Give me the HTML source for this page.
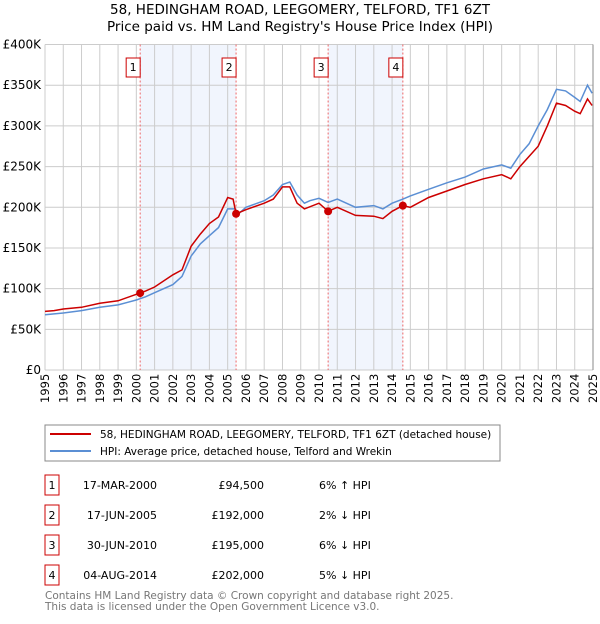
<!DOCTYPE html>
<html><head><meta charset="utf-8"><style>
body{margin:0;background:#fff;font-family:"DejaVu Sans","Liberation Sans",sans-serif;}
svg text{font-family:"DejaVu Sans","Liberation Sans",sans-serif;}
</style></head><body>
<svg id="chart" width="600" height="620" xmlns="http://www.w3.org/2000/svg">
<text x="300" y="14" text-anchor="middle" font-size="13.5">58, HEDINGHAM ROAD, LEEGOMERY, TELFORD, TF1 6ZT</text>
<text x="300" y="31" text-anchor="middle" font-size="13.5">Price paid vs. HM Land Registry's House Price Index (HPI)</text>
<g id="plot"></g>
<rect x="45" y="425" width="455" height="36" fill="#fff" stroke="#888"/>
<line x1="50" y1="434" x2="91" y2="434" stroke="#cc0000" stroke-width="2"/>
<text x="100" y="438" font-size="10.5">58, HEDINGHAM ROAD, LEEGOMERY, TELFORD, TF1 6ZT (detached house)</text>
<line x1="50" y1="451" x2="91" y2="451" stroke="#5b8fd4" stroke-width="2"/>
<text x="100" y="455" font-size="10.5">HPI: Average price, detached house, Telford and Wrekin</text>
<g id="table"></g>
<text x="45" y="599" font-size="10.5" fill="#777">Contains HM Land Registry data © Crown copyright and database right 2025.</text>
<text x="45" y="610" font-size="10.5" fill="#777">This data is licensed under the Open Government Licence v3.0.</text>
</svg>
<script>
const hpiYears=[1995,1995.5,1996,1997,1998,1999,2000,2000.5,2001,2002,2002.5,2003,2003.5,2004,2004.5,2005,2005.4,2005.6,2006,2007,2007.5,2008,2008.4,2008.8,2009.2,2009.5,2010,2010.5,2011,2012,2013,2013.5,2014,2014.6,2015,2016,2017,2018,2019,2020,2020.5,2021,2021.5,2022,2022.5,2023,2023.5,2024,2024.3,2024.7,2024.95];
const hpiValues=[68,69,70,73,77,80,86,90,95,105,115,140,155,165,175,198,198,192,200,208,215,228,231,215,205,208,211,206,210,200,202,198,205,210,214,222,230,237,247,252,248,265,278,300,320,345,343,335,330,350,340];
const propYears=[1995,1995.5,1996,1997,1998,1999,2000,2000.5,2001,2002,2002.5,2003,2003.5,2004,2004.5,2005,2005.3,2005.46,2006,2007,2007.5,2008,2008.4,2008.8,2009.2,2010,2010.5,2011,2012,2013,2013.5,2014,2014.59,2015,2016,2017,2018,2019,2020,2020.5,2021,2022,2022.5,2023,2023.5,2024,2024.3,2024.7,2024.95];
const propValues=[72,73,75,77,82,85,93,97,102,117,123,152,167,180,188,212,210,192,197,205,210,225,225,205,198,205,195,200,190,189,186,195,202,200,212,220,228,235,240,235,250,275,300,328,325,318,315,333,325];
const saleLabels=["1","2","3","4"];
const saleYears=[2000.21,2005.46,2010.5,2014.59];
const salePrices=[94500,192000,195000,202000];
const saleDates=["17-MAR-2000","17-JUN-2005","30-JUN-2010","04-AUG-2014"];
const salePriceText=["£94,500","£192,000","£195,000","£202,000"];
const saleHpiText=["6% ↑ HPI","2% ↓ HPI","6% ↓ HPI","5% ↓ HPI"];
const yTicks=[0,50,100,150,200,250,300,350,400];
const yTickLabels=["£0","£50K","£100K","£150K","£200K","£250K","£300K","£350K","£400K"];

const NS="http://www.w3.org/2000/svg";
const X0=45,X1=593,Y0=370,Y1=44.5;
const x=v=>X0+(v-1995)/30*(X1-X0);
const y=v=>Y0-v/400*(Y0-Y1);
const g=document.getElementById('plot');
function mk(tag,attrs,parent){const e=document.createElementNS(NS,tag);for(const k in attrs)e.setAttribute(k,attrs[k]);(parent||g).appendChild(e);return e;}
let r=mk('rect',{x:X0,y:Y1,width:X1-X0,height:Y0-Y1,fill:'#fff'});


for(let i=0;i<4;i+=2){
  let s=mk('rect',{x:x(saleYears[i]),y:Y1,width:x(saleYears[i+1])-x(saleYears[i]),height:Y0-Y1,fill:'#eef3fc',opacity:0.8});
  
  
}
for(let yr=1995;yr<=2025;yr++){
  let l=mk('line',{x1:x(yr),x2:x(yr),y1:Y1,y2:Y0,stroke:'#ccc','stroke-width':1});
  
  
  let t=mk('text',{x:0,y:0,'font-size':11.5,transform:`translate(${x(yr)+4},${Y0+33}) rotate(-90)`});
  t.textContent=yr;
  
  
}
yTicks.forEach((v,i)=>{
  let l=mk('line',{x1:X0,x2:X1,y1:y(v),y2:y(v),stroke:'#ccc','stroke-width':1});
  
  
  let t=mk('text',{x:X0-4,y:y(v)+4,'font-size':12,'text-anchor':'end'});
  t.textContent=yTickLabels[i];
  
  
});
saleYears.forEach((yr,i)=>{
  let l=mk('line',{x1:x(yr),x2:x(yr),y1:Y1,y2:Y0,stroke:'#e66','stroke-width':1,'stroke-dasharray':'2,2'});
  
  
  let b=mk('rect',{x:x(yr)-14,y:58,width:14,height:19,fill:'#fff',stroke:'#cc0000'});
  
  
  let t=mk('text',{x:x(yr)-7,y:71,'font-size':11,'text-anchor':'middle'});
  t.textContent=saleLabels[i];
  
  
});
function path(xs,vs){return xs.map((v,i)=>(i?'L':'M')+x(v).toFixed(1)+','+y(vs[i]).toFixed(1)).join('');}
let hp=mk('path',{d:path(hpiYears,hpiValues),fill:'none',stroke:'#5b8fd4','stroke-width':1.5});


let pp=mk('path',{d:path(propYears,propValues),fill:'none',stroke:'#cc0000','stroke-width':1.5});


saleYears.forEach((yr,i)=>{
  let c=mk('circle',{cx:x(yr),cy:y(salePrices[i]/1000),r:4,fill:'#cc0000'});
  
  
});
let ax=mk('line',{x1:X1,x2:X1,y1:Y1,y2:Y0,stroke:'#888','stroke-width':1});


const tb=document.getElementById('table');
const rowY=[485,515,545,575];
saleLabels.forEach((lab,i)=>{
  const cy=rowY[i];
  let b=mk('rect',{x:45,y:cy-10,width:14,height:20,fill:'#fff',stroke:'#cc0000'},tb);
  
  
  let t=mk('text',{x:52,y:cy+4,'font-size':11,'text-anchor':'middle'},tb);
  t.textContent=lab;
  
  
  let d=mk('text',{x:157,y:cy+4,'font-size':11,'text-anchor':'end'},tb);
  d.textContent=saleDates[i];
  
  
  let p=mk('text',{x:264,y:cy+4,'font-size':11,'text-anchor':'end'},tb);
  p.textContent=salePriceText[i];
  
  
  let h=mk('text',{x:319,y:cy+4,'font-size':11},tb);
  h.textContent=saleHpiText[i];
  
  
});
</script>
</body></html>
